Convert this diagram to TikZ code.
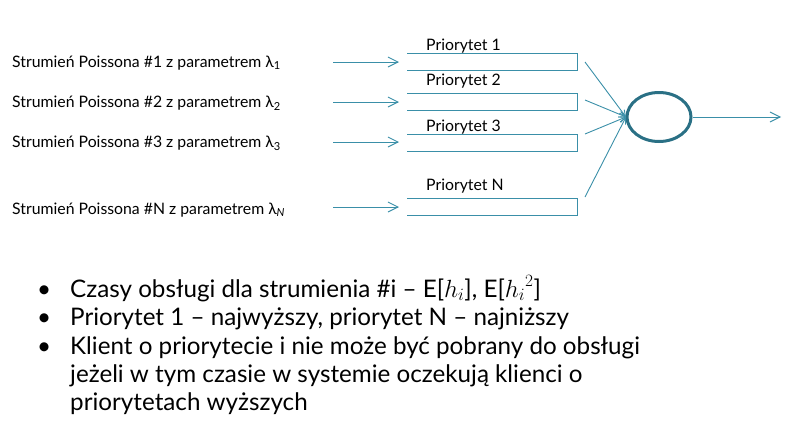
\documentclass[tikz,border=0pt]{standalone}
\usepackage{fontspec}
\setmainfont{Lato}
\usetikzlibrary{arrows.meta,shapes.geometric}
\definecolor{flow}{HTML}{3A8FA8}
\definecolor{server}{HTML}{2A7085}
\begin{document}
\begin{tikzpicture}[x=1pt,y=-1pt,
  stream/.style={font=\fontsize{15.8}{18}\selectfont,anchor=base west,inner sep=0pt},
  qlabel/.style={font=\fontsize{15.8}{18}\selectfont,anchor=base west,inner sep=0pt},
  bullet/.style={font=\fontsize{24.2}{29}\selectfont,anchor=base west,inner sep=0pt},
  feed/.style={draw=flow,line width=0.9pt,-{Straight Barb[length=10pt,width=10pt]}},
  merge/.style={draw=flow,line width=0.9pt,-{Straight Barb[length=6pt,width=6pt]}},
  queue/.style={draw=flow,line width=1pt}]
\useasboundingbox (0,0) rectangle (807,442);

% input streams
\node[stream] (s1) at (12,67) {Strumień Poissona \#1 z parametrem λ\textsubscript{1}};
\node[stream] (s2) at (12,107) {Strumień Poissona \#2 z parametrem λ\textsubscript{2}};
\node[stream] (s3) at (12,147) {Strumień Poissona \#3 z parametrem λ\textsubscript{3}};
\node[stream] (sN) at (12,214) {Strumień Poissona \#N z parametrem λ\textsubscript{\textit{N}}};

% queues (open on the left)
\foreach \n/\t/\b in {1/53.5/70.5, 2/93.5/110.5, 3/134.5/151.5, N/198.5/215.5}{
  \draw[queue] (407,\t) -- (577,\t) -- (577,\b) -- (407,\b);
}
\node[qlabel] (p1) at (426,50) {Priorytet 1};
\node[qlabel] (p2) at (426,85) {Priorytet 2};
\node[qlabel] (p3) at (426,131) {Priorytet 3};
\node[qlabel] (pN) at (426,190) {Priorytet N};

% stream arrows into the queues
\coordinate (a1) at (333,62);  \coordinate (b1) at (399,62);
\coordinate (a2) at (333,102); \coordinate (b2) at (399,102);
\coordinate (a3) at (333,142); \coordinate (b3) at (399,142);
\coordinate (aN) at (333,207); \coordinate (bN) at (399,207);
\draw[feed] (a1) -- (b1);
\draw[feed] (a2) -- (b2);
\draw[feed] (a3) -- (b3);
\draw[feed] (aN) -- (bN);

% server
\node[draw=server,line width=3pt,ellipse,minimum width=64pt,minimum height=49pt,inner sep=0pt] (srv) at (659,117) {};
\coordinate (in) at (626,117);
\coordinate (c1) at (585,62);
\coordinate (c2) at (585,100);
\coordinate (c3) at (585,134);
\coordinate (cN) at (585,197);
\draw[merge] (c1) -- (in);
\draw[merge] (c2) -- (in);
\draw[merge] (c3) -- (in);
\draw[merge] (cN) -- (in);
\coordinate (out) at (781,117);
\draw[feed] (srv.east) -- (out);

% notes
\foreach \y/\s in {297/b1, 325/b2, 354/b3}{
  \node[bullet] (\s dot) at (37,\y) {•};
}
\node[bullet] (l1) at (70,297) {Czasy obsługi dla strumienia \#i – E[$h_i$], E[${h_i}^2$]};
\node[bullet] (l2) at (70,325) {Priorytet 1 – najwyższy, priorytet N – najniższy};
\node[bullet] (l3) at (70,354) {Klient o priorytecie i nie może być pobrany do obsługi};
\node[bullet] (l4) at (70,382) {jeżeli w tym czasie w systemie oczekują klienci o};
\node[bullet] (l5) at (70,410) {priorytetach wyższych};
\end{tikzpicture}
\end{document}
